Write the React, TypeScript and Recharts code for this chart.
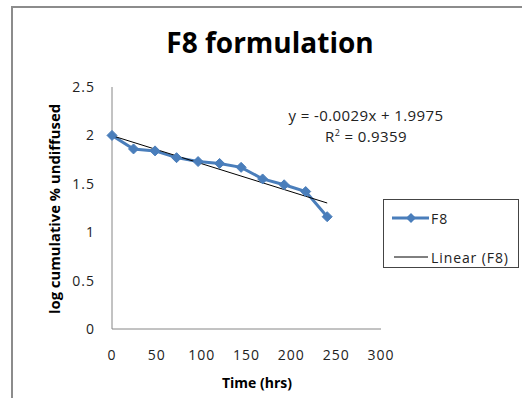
import { LineChart, Line, XAxis, YAxis } from "recharts";

const hours = [0, 24, 48, 72, 96, 120, 144, 168, 192, 216, 240];
const logUndiffused = [2.0, 1.86, 1.84, 1.77, 1.73, 1.71, 1.67, 1.55, 1.49, 1.42, 1.16];
const trendHours = [0, 240];
const trendValues = [1.9975, 1.3015];
const xTicks = [0, 50, 100, 150, 200, 250, 300];
const yTicks = [0, 0.5, 1, 1.5, 2, 2.5];

const FONT = "'Open Sans', Lato, sans-serif";
const BLUE = "#4a7ebb";

const data = hours.map((h, i) => ({ x: h, f8: logUndiffused[i] }));
const trend = trendHours.map((h, i) => ({ x: h, lin: trendValues[i] }));

function Diamond({ cx, cy }: any) {
  if (cx == null || cy == null) return null;
  const r = 5;
  return (
    <polygon
      points={`${cx},${cy - r} ${cx + r},${cy} ${cx},${cy + r} ${cx - r},${cy}`}
      fill={BLUE}
      stroke={BLUE}
    />
  );
}

const tickStyle = { fill: "#222", fontSize: 14, fontFamily: FONT, letterSpacing: 1 };

export default function App() {
  return (
    <div style={{ position: "absolute", left: 0, top: 0, width: 522, height: 398, background: "#fff", overflow: "hidden", fontFamily: FONT, fontVariantLigatures: "none" }}>
      <div style={{ position: "absolute", left: 11, top: 6, width: 520, height: 400, borderLeft: "2px solid #8c8c8c", borderTop: "2px solid #8c8c8c" }} />
      <LineChart width={522} height={398} margin={{ top: 87, right: 141, left: 0, bottom: 0 }}>
        <XAxis
          dataKey="x"
          type="number"
          domain={[0, 300]}
          ticks={xTicks}
          allowDuplicatedCategory={false}
          height={69}
          tickLine={false}
          axisLine={{ stroke: "#868686" }}
          tickMargin={15}
          tick={tickStyle}
        />
        <YAxis
          type="number"
          domain={[0, 2.5]}
          ticks={yTicks}
          width={112}
          tickLine={false}
          axisLine={{ stroke: "#868686" }}
          tickMargin={11}
          tick={tickStyle}
        />
        <Line
          data={data}
          dataKey="f8"
          stroke={BLUE}
          strokeWidth={3}
          dot={<Diamond />}
          isAnimationActive={false}
        />
        <Line
          data={trend}
          dataKey="lin"
          stroke="#000"
          strokeWidth={1}
          dot={false}
          isAnimationActive={false}
        />
      </LineChart>
      <div style={{ position: "absolute", left: 0, width: 540, top: 23, textAlign: "center", fontSize: 28, fontWeight: 700, color: "#000" }}>
        F8 formulation
      </div>
      <div style={{ position: "absolute", left: 157, width: 200, top: 373, textAlign: "center", fontSize: 14, fontWeight: 700 }}>
        Time (hrs)
      </div>
      <div
        style={{
          position: "absolute",
          left: 54,
          top: 209,
          transform: "translate(-50%, -50%) rotate(-90deg)",
          whiteSpace: "nowrap",
          fontSize: 14.8,
          fontWeight: 700,
        }}
      >
        log cumulative % undiffused
      </div>
      <div style={{ position: "absolute", left: 266, width: 200, top: 105, textAlign: "center", fontSize: 15, letterSpacing: 0.4, color: "#222", whiteSpace: "nowrap" }}>
        y = -0.0029x + 1.9975
      </div>
      <div style={{ position: "absolute", left: 266, width: 200, top: 126, textAlign: "center", fontSize: 15, letterSpacing: 0.4, color: "#222", whiteSpace: "nowrap" }}>
        R<sup style={{ fontSize: 9, verticalAlign: "6px", lineHeight: 0 }}>2</sup> = 0.9359
      </div>
      <div style={{ position: "absolute", left: 383, top: 199, width: 134, height: 67, border: "1px solid #444", fontSize: 14, letterSpacing: 0.9, color: "#222" }}>
        <svg width={50} height={67} style={{ position: "absolute", left: 0, top: 0 }}>
          <line x1={8} y1={18} x2={45} y2={18} stroke={BLUE} strokeWidth={3} />
          <polygon points="27,13 32,18 27,23 22,18" fill={BLUE} />
          <line x1={10} y1={57} x2={44} y2={57} stroke="#000" strokeWidth={1} />
        </svg>
        <div style={{ position: "absolute", left: 47, top: 9 }}>F8</div>
        <div style={{ position: "absolute", left: 47, top: 48, whiteSpace: "nowrap" }}>Linear (F8)</div>
      </div>
    </div>
  );
}
